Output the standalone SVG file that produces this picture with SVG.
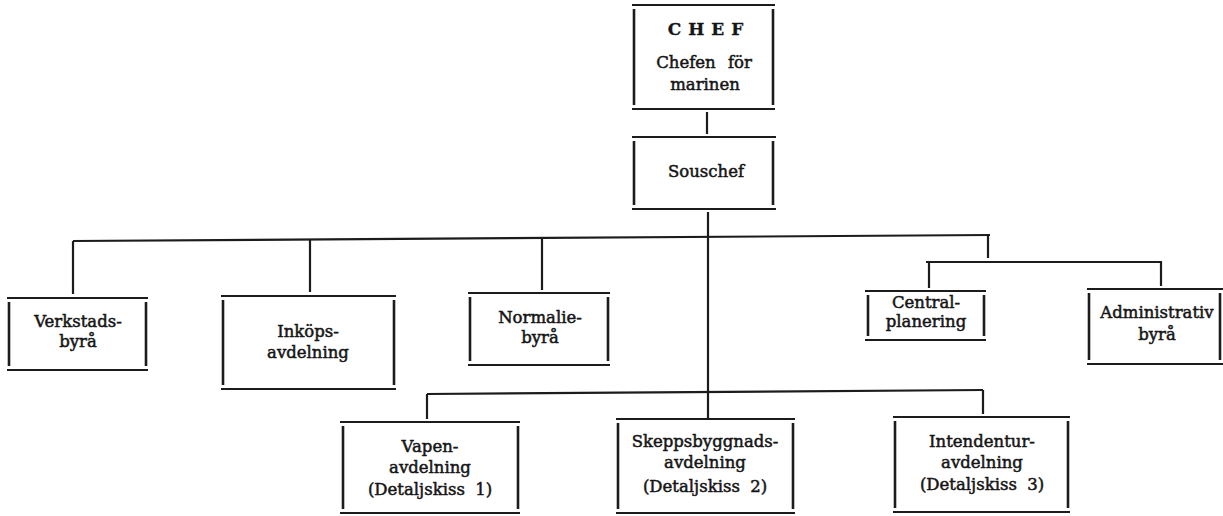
<svg xmlns="http://www.w3.org/2000/svg" width="1223" height="516" viewBox="0 0 1223 516">
<style>
.h{stroke:#1c1c1c;stroke-width:2.2;fill:none}
.v{stroke:#1c1c1c;stroke-width:2.6;fill:none}
.c{stroke:#1c1c1c;stroke-width:2.2;fill:none}
text{font-family:"DejaVu Serif","Liberation Serif",serif;font-size:16.5px;fill:#151515;stroke:#151515;stroke-width:0.5;text-anchor:middle}
.t{font-weight:bold;letter-spacing:7px;font-size:17px;stroke-width:0.3}
</style>
<rect width="1223" height="516" fill="#ffffff"/>
<g id="connectors">
<line class="c" x1="707" y1="112" x2="707" y2="134"/>
<line class="c" x1="708" y1="212" x2="708" y2="418"/>
<line class="c" x1="73" y1="241" x2="990" y2="235"/>
<line class="c" x1="73" y1="241" x2="73" y2="294"/>
<line class="c" x1="310" y1="240" x2="310" y2="292"/>
<line class="c" x1="542" y1="239" x2="542" y2="290"/>
<line class="c" x1="988" y1="235" x2="988" y2="258"/>
<line class="c" x1="926" y1="262" x2="1162" y2="262"/>
<line class="c" x1="929" y1="262" x2="929" y2="288"/>
<line class="c" x1="1161" y1="262" x2="1161" y2="286"/>
<line class="c" x1="427" y1="394" x2="983" y2="390"/>
<line class="c" x1="427" y1="394" x2="427" y2="419"/>
<line class="c" x1="983" y1="390" x2="983" y2="414"/>
</g>
<g id="chef">
<line class="h" x1="632" y1="5" x2="775" y2="5"/><line class="h" x1="632" y1="109" x2="775" y2="109"/>
<line class="v" x1="634" y1="9" x2="634" y2="105"/><line class="v" x1="773" y1="9" x2="773" y2="105"/>
<text class="t" x="709" y="35">CHEF</text>
<text x="704" y="68" word-spacing="7">Chefen för</text>
<text x="705" y="90">marinen</text>
</g>
<g id="souschef">
<line class="h" x1="632" y1="137" x2="776" y2="137"/><line class="h" x1="632" y1="209" x2="776" y2="209"/>
<line class="v" x1="634" y1="141" x2="634" y2="205"/><line class="v" x1="773" y1="141" x2="773" y2="205"/>
<text x="706" y="177">Souschef</text>
</g>
<g id="verkstadsbyra">
<line class="h" x1="7" y1="298" x2="148" y2="298"/><line class="h" x1="7" y1="370" x2="148" y2="370"/>
<line class="v" x1="9" y1="302" x2="9" y2="366"/><line class="v" x1="146" y1="302" x2="146" y2="366"/>
<text x="78" y="327">Verkstads-</text>
<text x="78" y="347">byrå</text>
</g>
<g id="inkopsavdelning">
<line class="h" x1="221" y1="296" x2="396" y2="296"/><line class="h" x1="221" y1="389" x2="396" y2="389"/>
<line class="v" x1="223" y1="300" x2="223" y2="385"/><line class="v" x1="394" y1="300" x2="394" y2="385"/>
<text x="308" y="337">Inköps-</text>
<text x="308" y="358">avdelning</text>
</g>
<g id="normaliebyra">
<line class="h" x1="468" y1="293" x2="610" y2="293"/><line class="h" x1="468" y1="365" x2="610" y2="365"/>
<line class="v" x1="470" y1="297" x2="470" y2="361"/><line class="v" x1="608" y1="297" x2="608" y2="361"/>
<text x="540" y="323">Normalie-</text>
<text x="540" y="343">byrå</text>
</g>
<g id="centralplanering">
<line class="h" x1="865" y1="291" x2="986" y2="291"/><line class="h" x1="865" y1="340" x2="986" y2="340"/>
<line class="v" x1="868" y1="295" x2="868" y2="336"/><line class="v" x1="984" y1="295" x2="984" y2="336"/>
<text x="926" y="308">Central-</text>
<text x="926" y="327">planering</text>
</g>
<g id="administrativbyra">
<line class="h" x1="1087" y1="289" x2="1223" y2="289"/><line class="h" x1="1087" y1="364" x2="1223" y2="364"/>
<line class="v" x1="1089" y1="293" x2="1089" y2="360"/><line class="v" x1="1220" y1="293" x2="1220" y2="360"/>
<text x="1157" y="318">Administrativ</text>
<text x="1157" y="340">byrå</text>
</g>
<g id="vapenavdelning">
<line class="h" x1="340" y1="422" x2="520" y2="422"/><line class="h" x1="340" y1="513" x2="520" y2="513"/>
<line class="v" x1="343" y1="426" x2="343" y2="509"/><line class="v" x1="518" y1="426" x2="518" y2="509"/>
<text x="430" y="452">Vapen-</text>
<text x="430" y="473">avdelning</text>
<text x="430" y="495" word-spacing="5">(Detaljskiss 1)</text>
</g>
<g id="skeppsbyggnadsavdelning">
<line class="h" x1="616" y1="419" x2="795" y2="419"/><line class="h" x1="616" y1="513" x2="795" y2="513"/>
<line class="v" x1="618" y1="423" x2="618" y2="509"/><line class="v" x1="793" y1="423" x2="793" y2="509"/>
<text x="705" y="447">Skeppsbyggnads-</text>
<text x="705" y="468">avdelning</text>
<text x="705" y="492" word-spacing="5">(Detaljskiss 2)</text>
</g>
<g id="intendenturavdelning">
<line class="h" x1="893" y1="417" x2="1070" y2="417"/><line class="h" x1="893" y1="512" x2="1070" y2="512"/>
<line class="v" x1="895" y1="421" x2="895" y2="508"/><line class="v" x1="1068" y1="421" x2="1068" y2="508"/>
<text x="982" y="447">Intendentur-</text>
<text x="982" y="468">avdelning</text>
<text x="982" y="490" word-spacing="5">(Detaljskiss 3)</text>
</g>
</svg>
